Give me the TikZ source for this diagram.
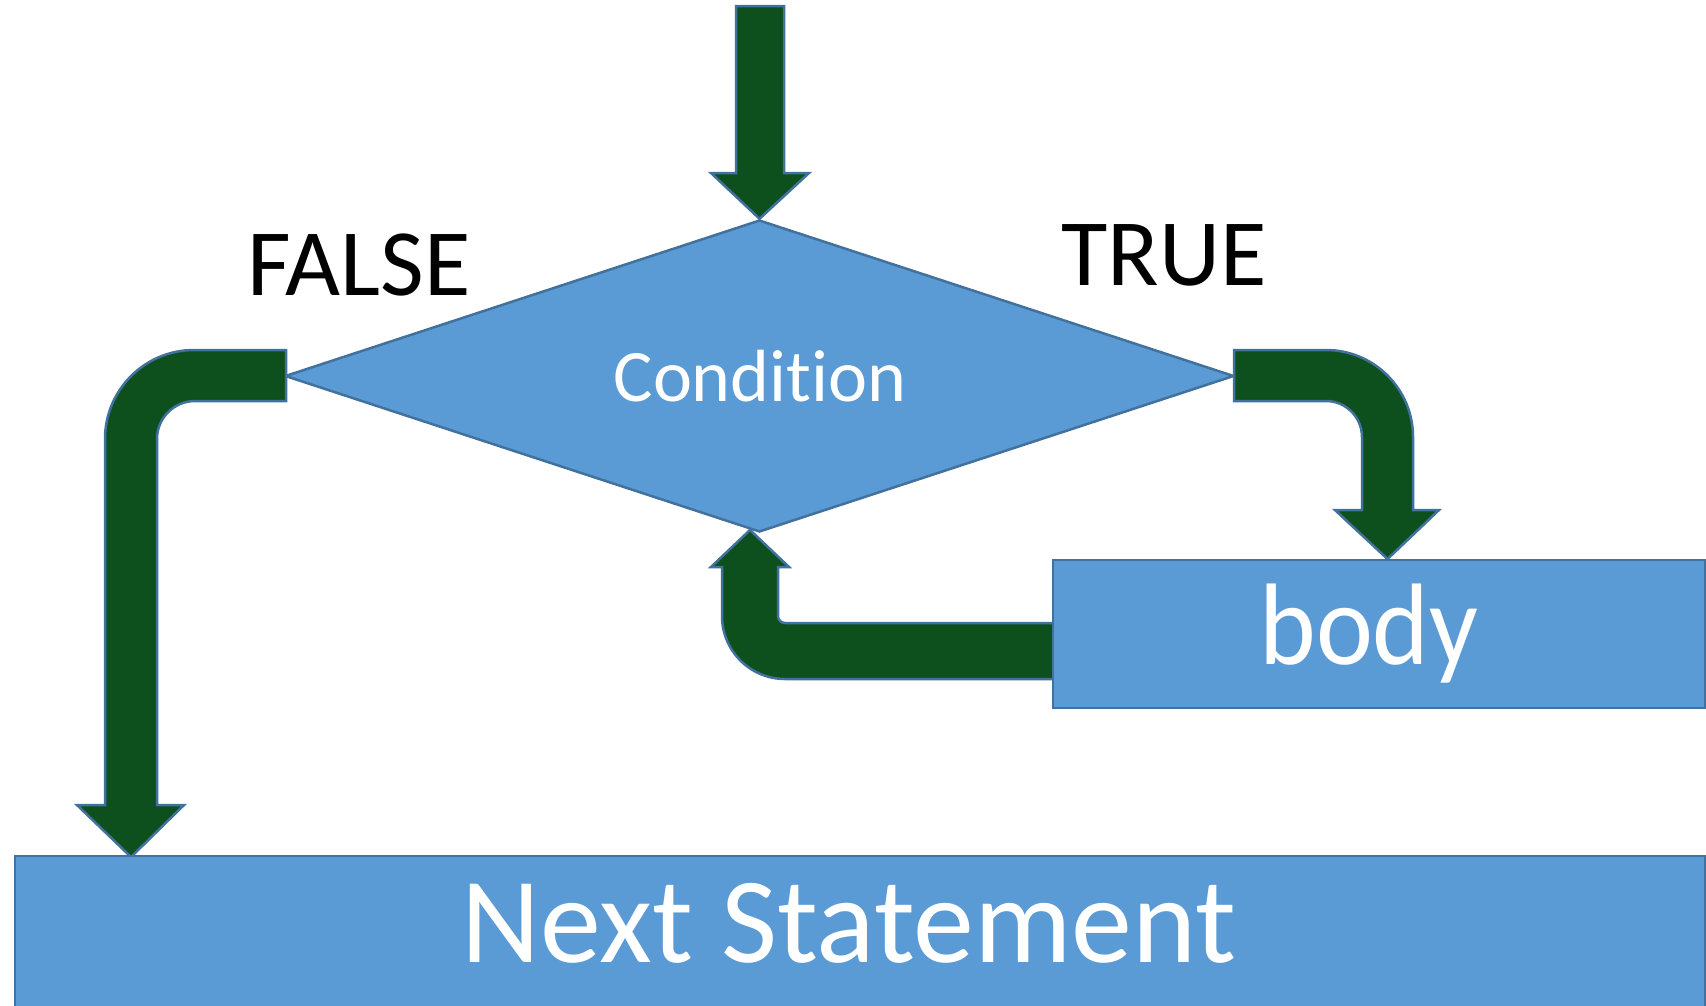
\documentclass[tikz,border=0pt]{standalone}
\usepackage{fontspec}
\setmainfont[Ligatures=NoCommon]{Carlito}
\usetikzlibrary{shapes.geometric}
\definecolor{boxblue}{RGB}{91,155,213}
\definecolor{edgeblue}{RGB}{65,113,156}
\definecolor{arrgreen}{RGB}{13,80,29}
\tikzset{
  fatarrow/.style={fill=arrgreen, draw=edgeblue, line width=2.5pt, line join=miter},
  blockbox/.style={fill=boxblue, draw=edgeblue, line width=2.5pt, text=white, inner sep=0pt},
  lbl/.style={text=black, inner sep=0pt, font=\fontsize{95}{95}\selectfont}
}
\begin{document}
\begin{tikzpicture}[x=1pt,y=-1pt]
\clip (0,0) rectangle (1706,1005);
\fill[white] (0,0) rectangle (1706,1005);
% condition diamond
\node[blockbox, diamond, minimum width=949pt, minimum height=312pt, aspect=3.04] (cond) at (759.5,376) {};
\node[text=white, inner sep=0pt, font=\fontsize{74}{74}\selectfont] (condtxt) at (760,376) {Condit\kern0pt ion};
% labels
\node[lbl] (false) at (359,265) {FALSE};
\node[lbl] (true) at (1164,255) {TRUE};
% entry arrow
\draw[fatarrow] (736,6) -- (784,6) -- (784,173) -- (809,173) -- (cond.north) -- (711,173) -- (736,173) -- cycle;
% false branch
\draw[fatarrow] (286,350) -- (194,350) arc[start angle=270,end angle=180,radius=89]
  -- (105,805) -- (77,805) -- (131,857) -- (184,805) -- (157,805) -- (157,439)
  arc[start angle=180,end angle=270,radius=38] -- (286,401) -- cycle;
% true branch
\draw[fatarrow] (1234,350) -- (1326,350) arc[start angle=270,end angle=360,radius=87]
  -- (1413,510) -- (1439,510) -- (1387.5,559) -- (1335,510) -- (1362,510) -- (1362,437)
  arc[start angle=0,end angle=-90,radius=36] -- (1234,401) -- cycle;
% loop back
\draw[fatarrow] (1060,623) -- (785,623) arc[start angle=90,end angle=180,radius=7]
  -- (778,567) -- (789,567) -- (750,530) -- (711,567) -- (722,567) -- (722,616)
  arc[start angle=180,end angle=90,radius=63] -- (1060,679) -- cycle;
% body
\node[blockbox, minimum width=652pt, minimum height=148pt] (body) at (1379,634) {};
\node[text=white, inner sep=0pt, font=\fontsize{116}{116}\selectfont] (bodytxt) at (1369,634) {\scalebox{0.93}[1]{body}};
% next statement
\node[blockbox, minimum width=1690pt, minimum height=170pt] (next) at (860,941) {};
\node[text=white, inner sep=0pt, font=\fontsize{122}{122}\selectfont] (nexttxt) at (849,923) {Next Statement};
\end{tikzpicture}
\end{document}
